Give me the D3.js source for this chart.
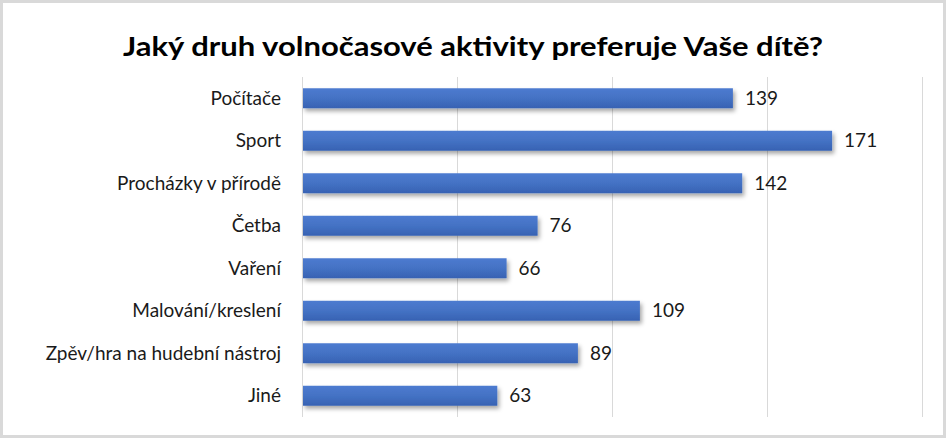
<!DOCTYPE html>
<html><head><meta charset="utf-8">
<script src="https://cdn.jsdelivr.net/npm/d3@7"></script>
<style>body{margin:0;background:#fff;}svg{display:block;font-family:Lato,"Open Sans",sans-serif;}</style>
</head><body>
<script>
const categories = ["Počítače","Sport","Procházky v přírodě","Četba","Vaření","Malování/kreslení","Zpěv/hra na hudební nástroj","Jiné"];
const values = [139,171,142,76,66,109,89,63];
const xTicks = [0,50,100,150,200];
const title = "Jaký druh volnočasové aktivity preferuje Vaše dítě?";

const W = 947, H = 439;
const svg = d3.select("body").append("svg").attr("width", W).attr("height", H);
const defs = svg.append("defs");
const g1 = defs.append("linearGradient").attr("id","bg").attr("x1",0).attr("y1",0).attr("x2",0).attr("y2",1);
g1.append("stop").attr("offset","0%").attr("stop-color","#4d7bd0");
g1.append("stop").attr("offset","50%").attr("stop-color","#4472c4");
g1.append("stop").attr("offset","100%").attr("stop-color","#3762b3");
const f = defs.append("filter").attr("id","sh").attr("x","-5%").attr("y","-30%").attr("width","115%").attr("height","190%");
f.append("feDropShadow").attr("dx",2).attr("dy",3).attr("stdDeviation",2).attr("flood-color","#000").attr("flood-opacity",0.35);

svg.append("rect").attr("x",1.5).attr("y",1.5).attr("width",W-4).attr("height",H-4)
  .attr("fill","#fff").attr("stroke","#d9d9d9").attr("stroke-width",3);

const x = d3.scaleLinear().domain([0,200]).range([302,922]);
const y = d3.scaleBand().domain(categories).range([77,417]).paddingInner(0.53).paddingOuter(0.265);

svg.append("g").selectAll("line").data(xTicks).join("line")
  .attr("x1",d=>x(d)+0.5).attr("x2",d=>x(d)+0.5).attr("y1",77).attr("y2",417)
  .attr("stroke","#d9d9d9").attr("stroke-width",1);

svg.append("g").selectAll("rect").data(values).join("rect")
  .attr("x",x(0)+1).attr("y",(d,i)=>y(categories[i]))
  .attr("width",d=>x(d)-x(0)-1).attr("height",y.bandwidth())
  .attr("fill","url(#bg)").attr("filter","url(#sh)");

svg.append("g").selectAll("text").data(values).join("text")
  .attr("x",d=>x(d)+12).attr("y",(d,i)=>y(categories[i])+y.bandwidth()/2)
  .attr("dy","0.35em").attr("font-size",19).attr("fill","#1a1a1a").text(d=>d);

svg.append("g").selectAll("text").data(categories).join("text")
  .attr("x",281).attr("y",d=>y(d)+y.bandwidth()/2).attr("dy","0.35em")
  .attr("text-anchor","end").attr("font-size",19).attr("fill","#1a1a1a").text(d=>d);

svg.append("text").attr("x",473).attr("y",56).attr("text-anchor","middle")
  .attr("font-size",27).attr("font-weight","bold").attr("fill","#000")
  .attr("textLength",700).attr("lengthAdjust","spacingAndGlyphs").text(title);
</script>
</body></html>
